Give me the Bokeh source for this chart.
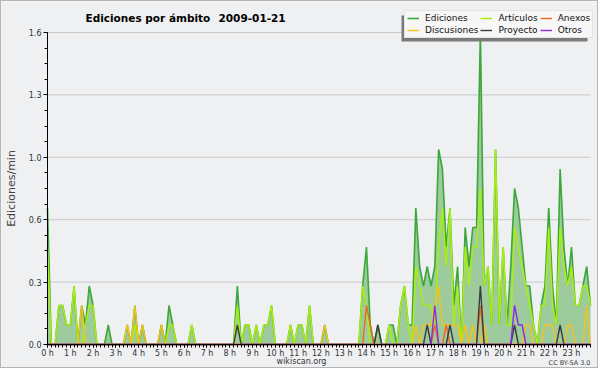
from bokeh.plotting import figure
from bokeh.models import (FixedTicker, Legend, LegendItem, Label, BoxAnnotation,
                          ColumnDataSource, Range1d)
from bokeh.embed import file_html
from bokeh.resources import INLINE

# ---------------- data (10-minute slots, edits per minute) ----------------
slot_minutes = list(range(0, 1440, 10))
hour_ticks = list(range(24))
hour_labels = [f"{h} h" for h in hour_ticks]
y_ticks = [0.0, 0.32, 0.64, 0.96, 1.28, 1.6]
y_labels = ["0.0", "0.3", "0.6", "1.0", "1.3", "1.6"]
series_names = ["Ediciones", "Artículos", "Anexos", "Discusiones", "Proyecto", "Otros"]

ediciones = [
    0.7, 0, 0, 0.2, 0.2, 0.1,        # 0 h
    0.1, 0.3, 0, 0.2, 0.1, 0.3,      # 1 h
    0.2, 0, 0, 0, 0.1, 0,            # 2 h
    0, 0, 0, 0.1, 0, 0.2,            # 3 h
    0, 0.1, 0, 0, 0, 0,              # 4 h
    0.1, 0, 0.2, 0.1, 0, 0,          # 5 h
    0, 0, 0.1, 0, 0, 0,              # 6 h
    0, 0, 0, 0, 0, 0,                # 7 h
    0, 0, 0.3, 0, 0.1, 0.1,          # 8 h
    0, 0.1, 0, 0.1, 0.1, 0.2,        # 9 h
    0, 0, 0, 0, 0.1, 0,              # 10 h
    0.1, 0.1, 0, 0.2, 0, 0,          # 11 h
    0, 0.1, 0, 0, 0, 0,              # 12 h
    0, 0, 0, 0, 0, 0.3,              # 13 h
    0.5, 0.1, 0, 0.1, 0, 0,          # 14 h
    0.1, 0.1, 0, 0.2, 0.3, 0.1,      # 15 h
    0.1, 0.7, 0.4, 0.3, 0.4, 0.3,    # 16 h
    0.4, 1.0, 0.9, 0.5, 0.7, 0.2,    # 17 h
    0.4, 0, 0.6, 0.4, 0.6, 0.6,      # 18 h
    1.6, 0.3, 0.4, 0.1, 1.0, 0.1,    # 19 h
    0.5, 0.1, 0.4, 0.8, 0.7, 0.5,    # 20 h
    0.3, 0.3, 0.1, 0, 0.2, 0.3,      # 21 h
    0.7, 0.3, 0.1, 0.9, 0.5, 0.3,    # 22 h
    0.5, 0.2, 0.2, 0.3, 0.4, 0.2,    # 23 h
]

articulos = [
    0.5, 0, 0, 0.2, 0.2, 0.1,
    0.1, 0.3, 0, 0, 0.1, 0.2,
    0.2, 0, 0, 0, 0, 0,
    0, 0, 0, 0, 0, 0.1,
    0, 0, 0, 0, 0, 0,
    0, 0, 0.1, 0.1, 0, 0,
    0, 0, 0.1, 0, 0, 0,
    0, 0, 0, 0, 0, 0,
    0, 0, 0.2, 0, 0.1, 0.1,
    0, 0.1, 0, 0.1, 0.1, 0.2,
    0, 0, 0, 0, 0.1, 0,
    0.1, 0.1, 0, 0.2, 0, 0,
    0, 0, 0, 0, 0, 0,
    0, 0, 0, 0, 0, 0.3,
    0.2, 0, 0, 0, 0, 0,
    0.1, 0, 0, 0.2, 0.3, 0.1,
    0, 0.4, 0.3, 0.2, 0.2, 0.2,
    0.1, 0.5, 0.7, 0.4, 0.7, 0.1,
    0.3, 0, 0.5, 0.3, 0.5, 0.5,
    0.8, 0.3, 0.4, 0.1, 1.0, 0.1,
    0.5, 0.1, 0.1, 0.6, 0.5, 0.4,
    0.3, 0.2, 0.1, 0, 0.2, 0.2,
    0.6, 0.2, 0.1, 0.6, 0.4, 0.3,
    0.4, 0.2, 0.2, 0.3, 0.3, 0.2,
]

discusiones = [
    0, 0, 0, 0, 0, 0,
    0, 0, 0, 0.2, 0, 0,
    0, 0, 0, 0, 0, 0,
    0, 0, 0, 0.1, 0, 0.2,
    0, 0.1, 0, 0, 0, 0,
    0.1, 0, 0, 0, 0, 0,
    0, 0, 0, 0, 0, 0,
    0, 0, 0, 0, 0, 0,
    0, 0, 0, 0, 0, 0,
    0, 0, 0, 0, 0, 0,
    0, 0, 0, 0, 0, 0,
    0, 0, 0, 0, 0, 0,
    0, 0.1, 0, 0, 0, 0,
    0, 0, 0, 0, 0, 0,
    0, 0, 0, 0, 0, 0,
    0, 0, 0, 0, 0, 0,
    0, 0.1, 0, 0.1, 0.1, 0.1,
    0.2, 0.3, 0.1, 0.1, 0.1, 0.1,
    0.1, 0, 0.1, 0, 0.1, 0,
    0, 0.1, 0, 0, 0, 0,
    0, 0, 0, 0, 0, 0,
    0.1, 0.1, 0, 0, 0, 0.1,
    0.1, 0.1, 0, 0, 0, 0.1,
    0.1, 0, 0, 0, 0.2, 0,
]

anexos = [0] * 84 + [
    0.2, 0.1, 0, 0, 0, 0,            # 14 h
    0, 0, 0, 0, 0, 0,                # 15 h
    0, 0, 0, 0, 0, 0,                # 16 h
    0.1, 0, 0, 0.1, 0, 0,            # 17 h
    0, 0, 0, 0, 0, 0,                # 18 h
    0.2, 0, 0, 0, 0, 0,              # 19 h
    0, 0, 0, 0, 0, 0,                # 20 h
    0, 0, 0, 0, 0, 0,                # 21 h
    0, 0, 0, 0, 0, 0,                # 22 h
    0, 0, 0, 0, 0, 0,                # 23 h
]

proyecto = [0] * 48 + [
    0, 0, 0.1, 0, 0, 0,              # 8 h
    0, 0, 0, 0, 0, 0,                # 9 h
    0, 0, 0, 0, 0, 0,                # 10 h
    0, 0, 0, 0, 0, 0,                # 11 h
    0, 0, 0, 0, 0, 0,                # 12 h
    0, 0, 0, 0, 0, 0,                # 13 h
    0, 0, 0, 0.1, 0, 0,              # 14 h
    0, 0, 0, 0, 0, 0,                # 15 h
    0, 0, 0, 0, 0.1, 0,              # 16 h
    0, 0, 0, 0, 0.1, 0,              # 17 h
    0, 0, 0, 0, 0, 0,                # 18 h
    0.3, 0, 0, 0, 0, 0,              # 19 h
    0, 0, 0, 0.1, 0, 0,              # 20 h
    0, 0, 0, 0, 0, 0,                # 21 h
    0, 0, 0, 0.1, 0, 0,              # 22 h
    0, 0, 0, 0, 0, 0,                # 23 h
]

otros = [0] * 96 + [
    0, 0, 0, 0, 0, 0,                # 16 h
    0.2, 0, 0, 0, 0, 0,              # 17 h
    0, 0, 0, 0, 0, 0,                # 18 h
    0, 0, 0, 0, 0, 0,                # 19 h
    0, 0, 0, 0.2, 0.1, 0.1,          # 20 h
    0, 0, 0, 0, 0, 0,                # 21 h
    0, 0, 0, 0, 0, 0,                # 22 h
    0, 0, 0, 0, 0, 0,                # 23 h
]

# ---------------- styling ----------------
BG = "#eff0f2"
FONT = "DejaVu Sans"
C_ED, C_FILL = "#3aa83a", "#9ecb9e"
C_ART, C_DISC, C_ANX, C_PROY, C_OTR = "#aaee11", "#f6c21a", "#f0671e", "#3c3c3c", "#8a2be2"

W, H = 598, 368                 # + 1px border on each side = 600 x 370
X0_CANVAS, X1_CANVAS = 46, 589  # data x 0 .. last slot  -> page x 47 .. 590
Y0_CANVAS, Y1_CANVAS = 343, 31  # data y 0 .. 1.6        -> page y 344 .. 32

hours = [m / 60 for m in slot_minutes]
x_last = hours[-1]
px_x = (X1_CANVAS - X0_CANVAS) / x_last
px_y = (Y0_CANVAS - Y1_CANVAS) / 1.6
x_range = Range1d(-X0_CANVAS / px_x, x_last + (W - X1_CANVAS) / px_x)
y_range = Range1d(-(H - Y0_CANVAS) / px_y, 1.6 + Y1_CANVAS / px_y)

src = ColumnDataSource(dict(x=hours, ed=ediciones, art=articulos, disc=discusiones,
                            anx=anexos, proy=proyecto, otr=otros))

p = figure(width=W, height=H, output_backend="svg", toolbar_location=None,
           x_range=x_range, y_range=y_range,
           min_border_left=0, min_border_right=0, min_border_top=0, min_border_bottom=0,
           background_fill_color=BG, border_fill_color=BG, outline_line_color=None)
p.styles = {"border": "1px solid #b4b4b4"}

# horizontal grid lines at the y ticks, spanning the time axis only
p.segment(x0=0, x1=x_last, y0=y_ticks[1:], y1=y_ticks[1:],
          line_color="#c9c9c9", line_width=1)

p.varea(x="x", y1=0, y2="ed", source=src, fill_color=C_FILL, fill_alpha=1.0)
r_ed = p.line("x", "ed", source=src, line_color=C_ED, line_width=1.6)
r_art = p.line("x", "art", source=src, line_color=C_ART, line_width=1.5)
r_disc = p.line("x", "disc", source=src, line_color=C_DISC, line_width=1.4)
r_anx = p.line("x", "anx", source=src, line_color=C_ANX, line_width=1.4)
r_proy = p.line("x", "proy", source=src, line_color=C_PROY, line_width=1.4)
r_otr = p.line("x", "otr", source=src, line_color=C_OTR, line_width=1.4)

# axes (drawn at data 0 inside the frame)
xax = p.xaxis[0]
yax = p.yaxis[0]
xax.fixed_location = 0
yax.fixed_location = 0
xax.bounds = (0, x_last)
yax.bounds = (0, 1.6)
xax.ticker = FixedTicker(ticks=hour_ticks, minor_ticks=hours)
xax.major_label_overrides = {h: lab for h, lab in zip(hour_ticks, hour_labels)}
yax.ticker = FixedTicker(ticks=y_ticks, minor_ticks=[k * 0.08 for k in range(21)])
yax.major_label_overrides = {t: lab for t, lab in zip(y_ticks, y_labels)}
for ax in (xax, yax):
    ax.axis_line_color = "black"
    ax.major_tick_line_color = "black"
    ax.minor_tick_line_color = "black"
    ax.major_label_text_font = FONT
    ax.major_label_text_font_size = "8px"
    ax.major_label_text_color = "#333333"
xax.major_tick_out = 3
xax.major_tick_in = 0
xax.minor_tick_out = 3
xax.minor_tick_in = 0
xax.major_label_standoff = 1
yax.major_tick_out = 4
yax.major_tick_in = 0
yax.minor_tick_out = 3
yax.minor_tick_in = 0
yax.major_label_standoff = 2
yax.axis_label = "Ediciones/min"
yax.axis_label_text_font = FONT
yax.axis_label_text_font_style = "normal"
yax.axis_label_text_font_size = "11px"
yax.axis_label_standoff = 8
p.xgrid.visible = False
p.ygrid.visible = False

# legend shadow + legend (screen units from the frame's bottom-left corner)
shadow = BoxAnnotation(left=400, right=586, top=354, bottom=328,
                       left_units="screen", right_units="screen",
                       top_units="screen", bottom_units="screen",
                       fill_color="#7a7a7a", fill_alpha=1.0, line_color=None)
p.add_layout(shadow)

renderers = {"Ediciones": r_ed, "Artículos": r_art, "Anexos": r_anx,
             "Discusiones": r_disc, "Proyecto": r_proy, "Otros": r_otr}
legend = Legend(items=[LegendItem(label=n, renderers=[renderers[n]]) for n in series_names],
                location=(403, 331), orientation="horizontal", ncols=3,
                label_text_font=FONT, label_text_font_size="9px", label_text_color="#111111",
                glyph_width=12, glyph_height=10, label_height=10, label_standoff=6,
                spacing=2, padding=2, margin=0,
                background_fill_color="#f7f7f7", background_fill_alpha=1.0,
                border_line_color="#d0d0d0", border_line_width=1)
p.add_layout(legend, "center")

# texts
for txt, xpos in (("Ediciones por ámbito", 84), ("2009-01-21", 217)):
    p.add_layout(Label(x=xpos, y=352, x_units="screen", y_units="screen",
                       text=txt, text_font=FONT, text_font_style="bold",
                       text_font_size="10.5px", text_baseline="middle", text_color="#000000"))
p.add_layout(Label(x=300, y=8, x_units="screen", y_units="screen",
                   text="wikiscan.org", text_font=FONT, text_font_size="8px",
                   text_align="center", text_baseline="middle", text_color="#333333"))
p.add_layout(Label(x=589, y=7, x_units="screen", y_units="screen",
                   text="CC BY-SA 3.0", text_font=FONT, text_font_size="6.5px",
                   text_align="right", text_baseline="middle", text_color="#444444"))

open("out.html", "w").write(file_html(p, INLINE))
